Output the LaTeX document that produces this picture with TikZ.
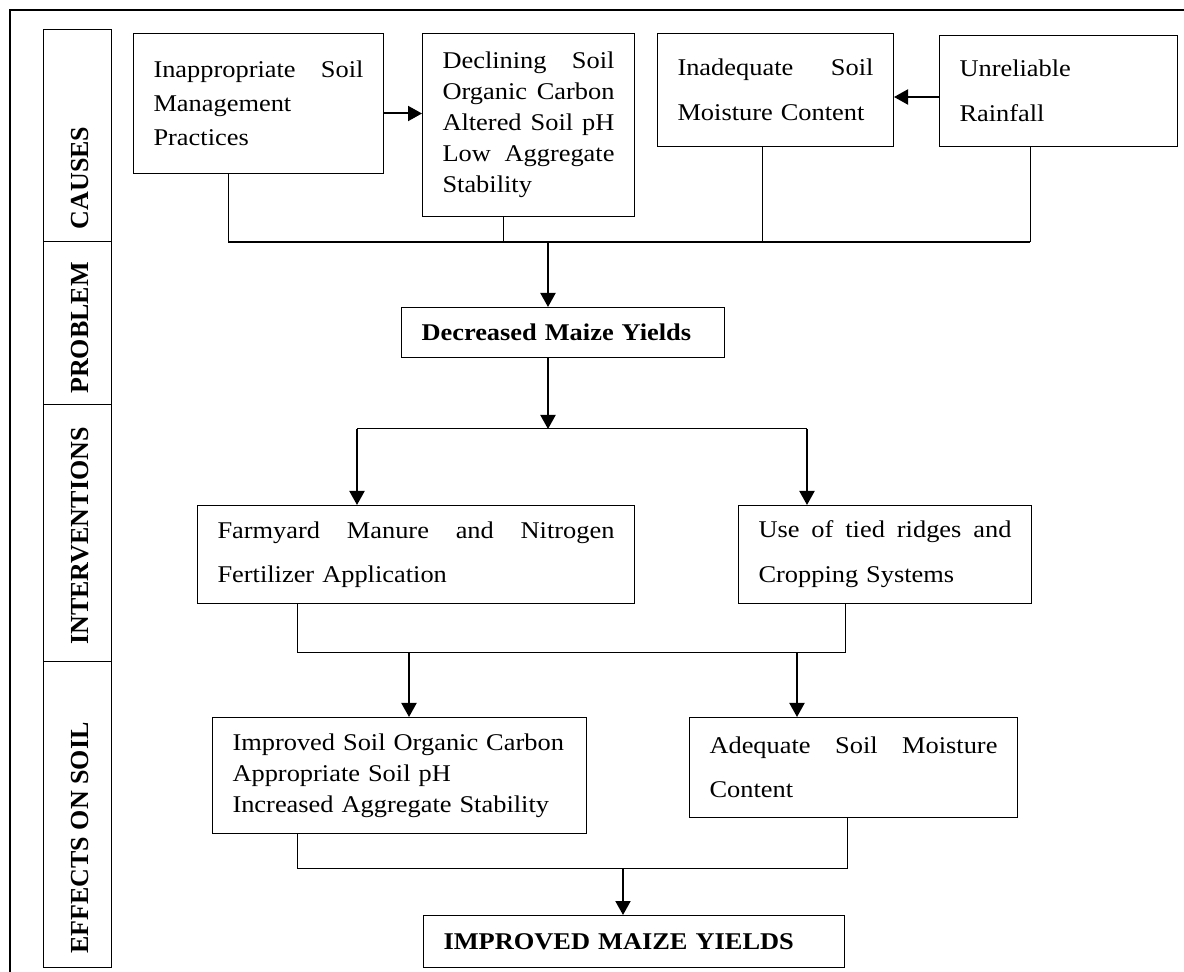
\documentclass[tikz,border=0pt]{standalone}
\usepackage{fontspec}
\setmainfont{Liberation Serif}
\newfontfamily\boxfont{Liberation Serif}[FakeStretch=1.1]
\usepackage{tikz}
\usetikzlibrary{calc,arrows.meta}

\begin{document}
\begin{tikzpicture}[x=0.5pt,y=-0.5pt,
  box/.style={draw,line width=0.5pt,rectangle,anchor=north west,
    inner xsep=10pt,inner ysep=0pt,align=left,
    font=\boxfont\fontsize{12}{#1}\selectfont},
  box/.default=15.5,
  tag/.style={rotate=90,inner sep=0pt,
    font=\fontsize{13}{15}\selectfont\bfseries},
  arr/.style={line width=1pt,-{Triangle[length=7pt,width=7.5pt]}},
  link/.style={line width=0.5pt}]

  % Page area and frame
  \useasboundingbox (0,0) rectangle (1184,972);
  \fill[white] (0,0) rectangle (1184,972);
  \draw[line width=1pt] (10,972) -- (10,10) -- (1184,10);

  % Left column with the stage names
  \draw[link] (43,30) rectangle (111,967);
  \foreach \y in {242,405,662} {
    \draw[link] (43,\y) -- (111,\y);
  }
  \node[tag] (tagCause) at (80,178) {CAUSES};
  \node[tag] (tagProb)  at (80,328) {PROBLEM};
  \node[tag] (tagInt)   at (80,536) {INTERVENTIONS};
  \node[tag] (tagEff)   at (80,838) {EFFECTS ON SOIL};

  % Causes
  \node[box=17,minimum width=125pt,minimum height=70pt,text width=105pt] (causeA) at (133,33)
    {Inappropriate\hfill Soil\\Management\\Practices};
  \node[box,minimum width=106pt,minimum height=91.5pt,text width=86pt] (causeB) at (422,33)
    {Declining\hfill Soil\\Organic\hfill Carbon\\Altered\hfill Soil\hfill pH\\Low\hfill Aggregate\\Stability};
  \node[box=22.5,minimum width=118pt,minimum height=56.5pt,text width=98pt] (causeC) at (657,33)
    {Inadequate\hfill Soil\\Moisture Content};
  \node[box=22.5,minimum width=119pt,minimum height=55.5pt,text width=99pt] (causeD) at (939,35)
    {Unreliable\\Rainfall};

  \draw[arr] ([yshift=-5pt]causeA.east) -- ([yshift=-5pt]causeA.east -| causeB.west);
  \draw[arr] ([yshift=-3pt]causeD.west) -- ([yshift=-3pt]causeD.west -| causeC.east);

  % Problem
  \node[box,minimum width=161.5pt,minimum height=25pt,text width=141.5pt] (prob) at (401,307)
    {\bfseries Decreased Maize Yields};

  % Causes joined on one line
  \coordinate (busA) at (228,242);
  \coordinate (busB) at (503,242);
  \coordinate (busC) at (762,242);
  \coordinate (busD) at (1030,242);
  \coordinate (busM) at (548,242);
  \draw[link] (causeA.south -| busA) -- (busA);
  \draw[link] (causeB.south -| busB) -- (busB);
  \draw[link] (causeC.south -| busC) -- (busC);
  \draw[link] (causeD.south -| busD) -- (busD);
  \draw[line width=1pt] (busA) -- (busD);
  \draw[arr] (busM) -- (busM |- prob.north);

  % Interventions
  \node[box=22,minimum width=218.5pt,minimum height=49pt,text width=198.5pt] (intA) at (197,505)
    {Farmyard\hfill Manure\hfill and\hfill Nitrogen\\Fertilizer Application};
  \node[box=22.5,minimum width=146.5pt,minimum height=49pt,text width=126.5pt] (intB) at (738,505)
    {Use\hfill of\hfill tied\hfill ridges\hfill and\\Cropping Systems};

  \coordinate (splitL) at (357,429);
  \coordinate (splitM) at (548,429);
  \coordinate (splitR) at (807,429);
  \draw[arr] (prob.south -| splitM) -- (splitM);
  \draw[link] (splitL) -- (splitR);
  \draw[arr] (splitL) -- (splitL |- intA.north);
  \draw[arr] (splitR) -- (splitR |- intB.north);

  % Effects on soil
  \node[box,minimum width=187pt,minimum height=58pt,text width=167pt] (effA) at (212,717)
    {Improved Soil Organic Carbon\\Appropriate Soil pH\\Increased Aggregate Stability};
  \node[box=22,minimum width=164pt,minimum height=50pt,text width=144pt] (effB) at (689,717)
    {Adequate\hfill Soil\hfill Moisture\\Content};

  \coordinate (joinL) at (297,653);
  \coordinate (joinA) at (409,653);
  \coordinate (joinB) at (797,653);
  \coordinate (joinR) at (845,653);
  \draw[link] (intA.south -| joinL) -- (joinL) -- (joinR) -- (intB.south -| joinR);
  \draw[arr] (joinA) -- (joinA |- effA.north);
  \draw[arr] (joinB) -- (joinB |- effB.north);

  % Outcome
  \node[box,minimum width=210.5pt,minimum height=26pt,text width=190.5pt] (outc) at (423,915)
    {\bfseries IMPROVED MAIZE YIELDS};

  \coordinate (mergeL) at (297,868);
  \coordinate (mergeM) at (623,868);
  \coordinate (mergeR) at (847,868);
  \draw[link] (effA.south -| mergeL) -- (mergeL) -- (mergeR) -- (effB.south -| mergeR);
  \draw[arr] (mergeM) -- (mergeM |- outc.north);
\end{tikzpicture}
\end{document}
